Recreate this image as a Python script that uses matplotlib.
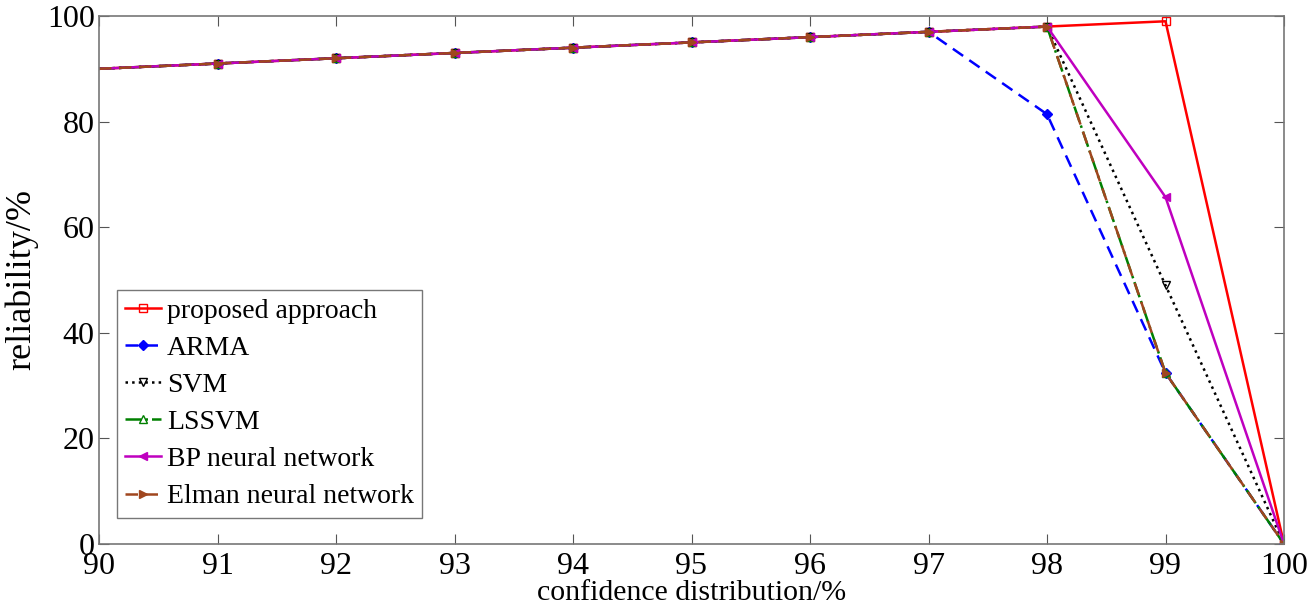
import matplotlib
matplotlib.use('Agg')
import matplotlib.pyplot as plt

x = [90, 91, 92, 93, 94, 95, 96, 97, 98, 99, 100]
proposed = [90, 91, 92, 93, 94, 95, 96, 97, 98, 99, 0]
arma = [90, 91, 92, 93, 94, 95, 96, 97, 81.4, 32.4, 0]
svm = [90, 91, 92, 93, 94, 95, 96, 97, 98, 49, 0]
lssvm = [90, 91, 92, 93, 94, 95, 96, 97, 98, 32.4, 0]
bp = [90, 91, 92, 93, 94, 95, 96, 97, 98, 65.7, 0]
elman = [90, 91, 92, 93, 94, 95, 96, 97, 98, 32.4, 0]

plt.rcParams['font.family'] = ['Liberation Serif', 'DejaVu Serif']

fig = plt.figure(figsize=(13.13, 6.1), dpi=100)
ax = fig.add_axes([99 / 1313, 1 - 544 / 610, (1284 - 99) / 1313, (544 - 16) / 610])

me = list(range(1, len(x)))
dash = (5, 3)
ax.plot(x, proposed, '-', color='#ff0000', marker='s', mfc='none', ms=6, lw=1.8,
        markevery=me, label='proposed approach')
ax.plot(x, arma, '--', color='#0000ff', marker='D', ms=5, lw=1.8, dashes=dash,
        markevery=me, label='ARMA')
ax.plot(x, svm, ':', color='black', marker='v', mfc='none', ms=6, lw=1.8,
        markevery=me, label='SVM')
ax.plot(x, lssvm, '-.', color='#008000', marker='^', mfc='none', ms=6, lw=1.8,
        markevery=me, label='LSSVM')
ax.plot(x, bp, '-', color='#bf00bf', marker='<', ms=6, lw=1.8,
        markevery=me, label='BP neural network')
ax.plot(x, elman, '--', color='#a0461e', marker='>', ms=6, lw=1.8, dashes=dash,
        markevery=me, label='Elman neural network')

ax.set_xlim(90, 100)
ax.set_ylim(0, 100)
ax.set_xticks(range(90, 101))
ax.set_yticks(range(0, 101, 20))
ax.tick_params(direction='in', top=True, right=True, labelsize=23, length=7,
               color='#555555')
ax.tick_params(axis='x', pad=6)
ax.tick_params(axis='y', pad=3)
for s in ax.spines.values():
    s.set_color('#777777')
    s.set_linewidth(1.2)

ax.set_xlabel('confidence distribution/%', fontsize=21.5, labelpad=-1)
ax.set_ylabel('reliability/%', fontsize=26, labelpad=6)

leg = ax.legend(loc='lower left', bbox_to_anchor=(0.015, 0.05), fontsize=20,
                frameon=True, fancybox=False, edgecolor='#555555',
                handlelength=1.3, handletextpad=0.2, labelspacing=0.42,
                borderpad=0.3, borderaxespad=0)
leg.get_frame().set_linewidth(1.0)

plt.savefig('out.png', dpi=100)
